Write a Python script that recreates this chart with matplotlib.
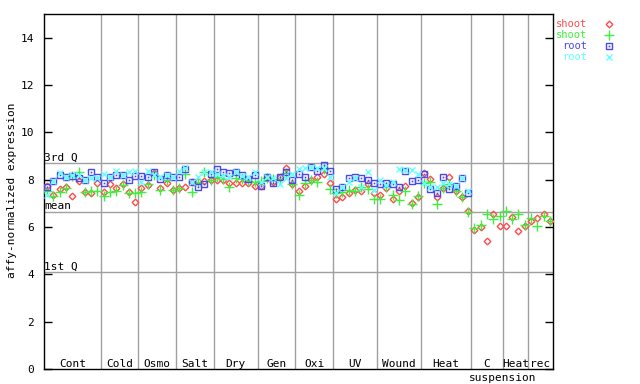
import matplotlib
matplotlib.use("Agg")
import matplotlib.pyplot as plt
import numpy as np

# ---------------- data ----------------
groups = ["Cont", "Cold", "Osmo", "Salt", "Dry", "Gen", "Oxi", "UV", "Wound", "Heat", "C", "Heat", "rec"]
group_sizes = [9, 6, 6, 6, 7, 6, 6, 7, 7, 8, 5, 4, 4]

shoot_red = [7.73, 7.35, 7.60, 7.68, 7.31, 7.95, 7.46, 7.45, 7.84, 7.50,
             7.80, 7.66, 7.80, 7.49, 7.07, 7.63, 7.77, 8.30, 7.63, 7.84,
             7.56, 7.63, 7.70, 7.91, 7.95, 7.95, 8.00, 8.00, 8.00, 7.88,
             7.88, 7.84, 7.84, 7.73, 7.73, 8.05, 7.90, 8.13, 8.50, 7.80,
             7.52, 7.73, 8.00, 8.10, 8.24, 7.88, 7.18, 7.28, 7.42, 7.56,
             7.52, 7.80, 7.42, 7.35, 7.66, 7.20, 7.52, 7.75, 7.00, 7.28,
             8.27, 8.03, 7.28, 7.66, 8.10, 7.52, 7.28, 6.68, 5.87, 6.00,
             5.41, 6.55, 6.05, 6.05, 6.42, 5.83, 6.05, 6.26, 6.37, 6.55,
             6.26]
shoot_green = [7.52, 7.32, 7.46, 7.63, 8.15, 8.34, 7.46, 7.53, 7.53, 7.31,
               7.50, 7.53, 7.77, 7.42, 7.45, 7.49, 7.80, 8.20, 7.56, 8.00,
               7.56, 7.63, 8.24, 7.49, 7.91, 8.34, 8.00, 8.13, 8.03, 7.68,
               8.06, 8.03, 7.94, 7.91, 7.94, 8.05, 8.03, 8.00, 8.27, 7.80,
               7.35, 7.88, 8.00, 7.91, 8.45, 7.60, 7.42, 7.50, 7.56, 7.52,
               7.70, 7.60, 7.18, 7.18, 7.70, 7.35, 7.14, 7.52, 6.96, 7.31,
               7.84, 7.91, 6.96, 7.63, 7.80, 7.52, 7.28, 6.62, 5.94, 6.09,
               6.55, 6.35, 6.45, 6.66, 6.35, 6.55, 6.09, 6.38, 6.06, 6.45,
               6.26]
root_blue = [7.70, 7.94, 8.20, 8.10, 8.17, 8.06, 8.00, 8.34, 8.13, 7.87,
             8.10, 8.20, 8.20, 7.98, 8.15, 8.15, 8.12, 8.32, 8.03, 8.18,
             8.10, 8.10, 8.46, 7.90, 7.68, 7.80, 8.24, 8.46, 8.33, 8.27,
             8.34, 8.20, 8.03, 8.20, 7.73, 8.10, 7.84, 8.13, 8.31, 8.00,
             8.24, 8.10, 8.55, 8.37, 8.62, 8.37, 7.60, 7.70, 8.06, 8.10,
             8.06, 8.00, 7.84, 7.80, 7.84, 7.80, 7.68, 8.38, 7.94, 8.00,
             8.24, 7.60, 7.42, 8.13, 7.60, 7.75, 8.09, 7.42]
root_cyan = [7.35, 7.94, 8.27, 8.12, 8.20, 8.20, 8.00, 8.06, 8.06, 8.23,
             8.10, 8.37, 8.20, 8.31, 8.37, 7.90, 8.37, 8.20, 8.10, 8.20,
             8.10, 8.37, 8.48, 7.91, 8.10, 8.34, 8.34, 8.24, 8.17, 8.10,
             8.34, 8.17, 8.10, 8.34, 7.91, 8.10, 8.06, 7.80, 8.06, 8.24,
             8.45, 8.48, 8.55, 8.48, 8.50, 8.13, 7.45, 7.70, 7.91, 8.08,
             7.70, 8.31, 7.56, 8.00, 7.77, 7.91, 8.45, 8.41, 8.41, 8.24,
             7.84, 7.70, 7.70, 7.84, 7.80, 7.75, 8.09, 7.53]

q3, mean_v, q1 = 8.69, 6.63, 4.09
yticks = [0, 2, 4, 6, 8, 10, 12, 14]

# ---------------- style ----------------
FONT = "DejaVu Sans Mono"
plt.rcParams["font.family"] = FONT
W, H = 640, 384
fig = plt.figure(figsize=(W / 100, H / 100), dpi=100)
L, R, T, B = 44, 553, 14, 369
ax = fig.add_axes([L / W, 1 - B / H, (R - L) / W, (B - T) / H])

n = len(shoot_red)
ax.set_xlim(0, n)
ax.set_ylim(0, 15)

grid_c = "#a0a0a0"
bounds = np.cumsum(group_sizes)
for b in bounds[:-1]:
    ax.axvline(b, color=grid_c, lw=1, zorder=1)
for v in (q3, mean_v, q1):
    ax.axhline(v, color=grid_c, lw=1, zorder=1)

for v, lab in ((q3, "3rd Q"), (mean_v, "mean"), (q1, "1st Q")):
    ax.text(0.05, v + 0.03, lab, fontsize=8, va="bottom", ha="left", zorder=2)

red, green, blue, cyan = "#ff4c4c", "#3cf03c", "#4848f0", "#64ffff"

x_sh = np.arange(len(shoot_red)) + 0.5
x_rt = np.arange(len(root_blue)) + 0.5
ax.plot(x_sh, shoot_red, ls="none", marker="D", ms=3.4, mfc="none", mec=red, mew=1.0, zorder=3)
ax.plot(x_sh, shoot_green, ls="none", marker="+", ms=6.5, mec=green, mew=1.0, zorder=3)
ax.plot(x_rt, root_blue, ls="none", marker="s", ms=5, mfc="none", mec=blue, mew=1.0, zorder=3)
ax.plot(x_rt, root_blue, ls="none", marker="s", ms=1.2, mfc=blue, mec=blue, mew=0, zorder=3)
ax.plot(x_rt, root_cyan, ls="none", marker="x", ms=5, mec=cyan, mew=1.0, zorder=3)

starts = np.concatenate([[0], bounds[:-1]])
for s, sz, g in zip(starts, group_sizes, groups):
    ax.text(s + sz / 2, -0.02, g, fontsize=8, ha="center", va="bottom", zorder=2)
ax.text(bounds[10], -0.36, "suspension", fontsize=8, ha="center", va="center", clip_on=False)

ax.set_xticks([])
ax.set_yticks(yticks)
ax.set_yticklabels([str(t) for t in yticks], fontsize=8)
ax.tick_params(axis="y", direction="in", length=6, width=1, pad=7, right=True, left=True)
for sp in ax.spines.values():
    sp.set_linewidth(1)
    sp.set_color("black")

fig.text(12 / W, 1 - 190 / H, "affy-normalized expression", rotation=90,
         fontsize=8, ha="center", va="center")

# legend
leg = [("shoot", red, "D", 3.4, "none"), ("shoot", green, "+", 6.5, None),
       ("root", blue, "s", 5, "none"), ("root", cyan, "x", 5, None)]
for k, (lab, col, mk, ms, mfc) in enumerate(leg):
    yy = 1 - (24 + 11 * k) / H
    fig.text(587 / W, yy, lab, color=col, fontsize=7.5, ha="right", va="center")
    kw = dict(marker=mk, ms=ms, mec=col, mew=1.0, ls="none", transform=fig.transFigure)
    if mfc is not None:
        kw["mfc"] = mfc
    fig.lines.append(plt.Line2D([609 / W], [yy], **kw))
    if mk == "s":
        fig.lines.append(plt.Line2D([609 / W], [yy], marker="s", ms=1.2, mfc=col, mew=0,
                                    ls="none", transform=fig.transFigure))

fig.savefig("out.png", dpi=100)
